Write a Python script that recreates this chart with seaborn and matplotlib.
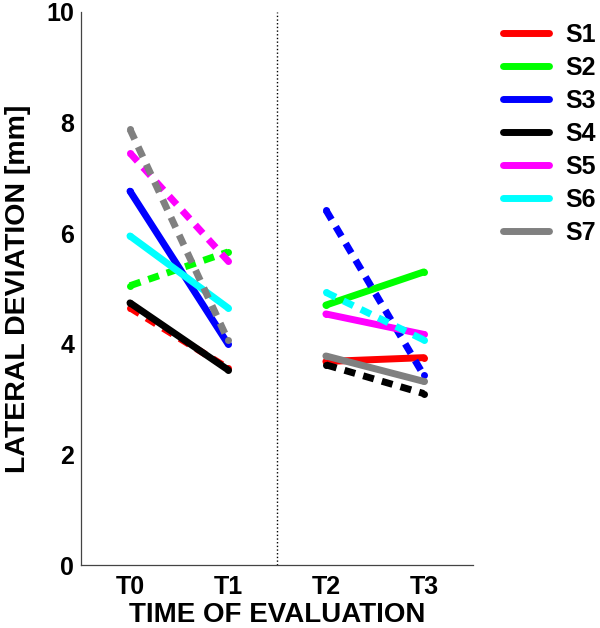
import matplotlib
matplotlib.use("Agg")
import matplotlib.pyplot as plt
from matplotlib.lines import Line2D
import seaborn as sns
import pandas as pd

sns.set_style("white")
plt.rcParams['font.family'] = ['Liberation Sans', 'DejaVu Sans']
plt.rcParams['font.weight'] = 'bold'
plt.rcParams['text.color'] = 'black'
plt.rcParams['axes.labelcolor'] = 'black'
plt.rcParams['xtick.color'] = 'black'
plt.rcParams['ytick.color'] = 'black'

subjects = ["S1", "S2", "S3", "S4", "S5", "S6", "S7"]
colors = ["#ff0000", "#00ff00", "#0000ff", "#000000", "#ff00ff", "#00ffff", "#808080"]
time_labels = ["T0", "T1", "T2", "T3"]

t0 = [4.65, 5.05, 6.76, 4.74, 7.45, 5.95, 7.88]
t1 = [3.56, 5.66, 4.00, 3.53, 5.50, 4.65, 4.07]
t2 = [3.68, 4.70, 6.42, 3.62, 4.54, 4.93, 3.78]
t3 = [3.75, 5.30, 3.43, 3.10, 4.17, 4.07, 3.32]

# dashed flags per segment
dash_first = [True, True, False, False, True, False, True]
dash_second = [False, False, True, True, False, True, False]

rows = []
for i, s in enumerate(subjects):
    rows += [dict(subject=s, seg="A", x=0, y=t0[i]), dict(subject=s, seg="A", x=1, y=t1[i]),
             dict(subject=s, seg="B", x=2, y=t2[i]), dict(subject=s, seg="B", x=3, y=t3[i])]
df = pd.DataFrame(rows)

fig = plt.figure(figsize=(6.0, 6.28), dpi=100)
ax = fig.add_axes([0.135, 0.1003, 0.653, 0.8806])

lw = 5
for seg, flags in (("A", dash_first), ("B", dash_second)):
    for i, s in enumerate(subjects):
        d = df[(df.subject == s) & (df.seg == seg)]
        ls = (0, (1.6, 1.2)) if flags[i] else "-"
        sns.lineplot(data=d, x="x", y="y", ax=ax, color=colors[i], linewidth=lw,
                     linestyle=ls, marker="o", markersize=5, markeredgewidth=0,
                     solid_capstyle="round", dash_capstyle="butt", legend=False)

ax.axvline(1.5, color="black", linestyle=":", linewidth=1)

ax.set_xlim(-0.5, 3.5)
ax.set_ylim(0, 10)
ax.set_xticks([0, 1, 2, 3])
ax.set_xticklabels(time_labels)
ax.set_yticks([0, 2, 4, 6, 8, 10])
ax.tick_params(axis="both", direction="in", length=4, width=0.8, labelsize=18,
               color="#444444", labelcolor="black")
ax.tick_params(axis="x", pad=7)
ax.tick_params(axis="y", pad=5)
for lab in ax.get_xticklabels() + ax.get_yticklabels():
    lab.set_fontweight("bold")
ax.set_xlabel("TIME OF EVALUATION", fontsize=20, fontweight="bold", labelpad=2, color="black")
ax.set_ylabel("LATERAL DEVIATION [mm]", fontsize=20.5, fontweight="bold", labelpad=11, color="black")
for sp in ("top", "right"):
    ax.spines[sp].set_visible(False)
for sp in ("left", "bottom"):
    ax.spines[sp].set_color("#444444")
    ax.spines[sp].set_linewidth(0.9)

handles = [Line2D([0], [0], color=c, linewidth=5, marker=".", markersize=3) for c in colors]
leg = fig.legend(handles, subjects, loc="upper left", bbox_to_anchor=(0.838, 0.963),
                 frameon=False, handlelength=1.85, handletextpad=0.65, labelspacing=0.36,
                 borderpad=0, borderaxespad=0,
                 prop={"size": 18, "weight": "bold"})

fig.savefig("out.png", dpi=100)
